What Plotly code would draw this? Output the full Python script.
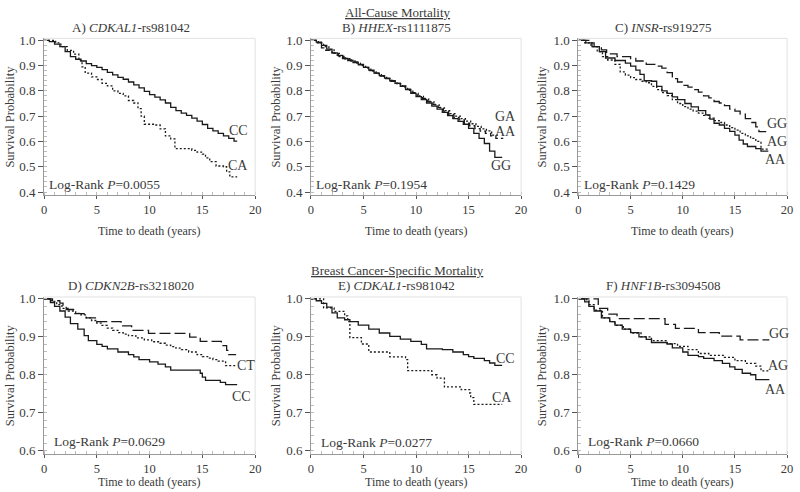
import plotly.graph_objects as go

# ---------------- data ----------------
# A) CDKAL1-rs981042, all-cause
A_CC_t = [0, 0.5, 1.0, 1.5, 2.0, 2.5, 3.0, 3.5, 4.0, 4.5, 5.0, 5.5, 6.0, 6.5, 7.0, 7.5, 8.0, 8.5, 9.0, 9.5,
          10.0, 10.5, 11.0, 11.5, 12.0, 12.5, 13.0, 13.5, 14.0, 14.5, 15.0, 15.5, 16.0, 16.5, 17.0, 17.5, 18.0, 18.3]
A_CC_s = [1.0, 0.995, 0.985, 0.975, 0.955, 0.935, 0.925, 0.918, 0.908, 0.900, 0.893, 0.884, 0.873, 0.863, 0.853,
          0.846, 0.835, 0.824, 0.812, 0.798, 0.785, 0.775, 0.764, 0.752, 0.735, 0.722, 0.712, 0.703, 0.692, 0.680,
          0.667, 0.652, 0.642, 0.632, 0.622, 0.612, 0.601, 0.601]
A_CA_t = [0, 1.1, 1.6, 2.2, 2.8, 3.3, 3.6, 3.9, 4.5, 5.0, 5.5, 6.0, 6.5, 7.0, 7.5, 8.0, 8.5, 8.9, 9.2, 9.5,
          10.5, 11.0, 11.5, 12.0, 12.4, 14.0, 14.5, 15.0, 15.3, 15.7, 16.3, 17.0, 17.3, 17.6, 18.3]
A_CA_s = [1.0, 0.99, 0.975, 0.96, 0.945, 0.92, 0.895, 0.87, 0.855, 0.845, 0.83, 0.82, 0.80, 0.79, 0.78, 0.762,
          0.752, 0.73, 0.70, 0.668, 0.665, 0.65, 0.622, 0.61, 0.572, 0.565, 0.558, 0.55, 0.535, 0.52, 0.503,
          0.50, 0.48, 0.46, 0.46]

# B) HHEX-rs1111875, all-cause
B_GG_t = [0, 0.5, 1.0, 1.5, 2.0, 2.5, 3.0, 3.5, 4.0, 4.5, 5.0, 5.5, 6.0, 6.5, 7.0, 7.5, 8.0, 8.5, 9.0, 9.5,
          10.0, 10.5, 11.0, 11.5, 12.0, 12.5, 13.0, 13.5, 14.0, 14.5, 15.0, 15.5, 16.0, 16.5, 17.0, 17.5, 18.2]
B_GG_s = [1.0, 0.993, 0.98, 0.965, 0.95, 0.94, 0.928, 0.92, 0.912, 0.903, 0.893, 0.882, 0.870, 0.860, 0.850,
          0.840, 0.830, 0.818, 0.805, 0.790, 0.777, 0.765, 0.752, 0.740, 0.728, 0.715, 0.702, 0.690, 0.679,
          0.668, 0.652, 0.632, 0.612, 0.592, 0.562, 0.537, 0.537]
B_GA_t = [0, 0.7, 1.2, 1.7, 2.2, 2.7, 3.2, 3.7, 4.2, 4.7, 5.2, 5.7, 6.2, 6.7, 7.2, 7.7, 8.2, 8.7, 9.2, 9.7,
          10.2, 10.7, 11.2, 11.7, 12.2, 12.7, 13.2, 13.7, 14.2, 14.7, 15.2, 15.7, 16.2, 16.7, 17.2, 17.8]
B_GA_s = [1.0, 0.99, 0.975, 0.962, 0.948, 0.935, 0.927, 0.918, 0.91, 0.9, 0.89, 0.878, 0.868, 0.858, 0.848,
          0.838, 0.828, 0.815, 0.802, 0.79, 0.778, 0.768, 0.757, 0.745, 0.733, 0.722, 0.71, 0.7, 0.69, 0.68,
          0.67, 0.66, 0.65, 0.642, 0.625, 0.625]
B_AA_t = [0, 0.6, 1.0, 1.4, 2.0, 2.6, 3.1, 3.6, 4.1, 4.6, 5.1, 5.6, 6.1, 6.6, 7.1, 7.6, 8.1, 8.6, 9.1, 9.6,
          10.1, 10.6, 11.1, 11.6, 12.1, 12.6, 13.1, 13.6, 14.1, 14.6, 15.1, 15.6, 16.1, 16.6, 17.1, 17.6, 18.3]
B_AA_s = [1.0, 0.99, 0.97, 0.96, 0.95, 0.938, 0.93, 0.922, 0.915, 0.905, 0.893, 0.88, 0.87, 0.858, 0.848, 0.838,
          0.83, 0.82, 0.807, 0.793, 0.78, 0.77, 0.758, 0.746, 0.735, 0.72, 0.706, 0.695, 0.685, 0.672, 0.662,
          0.651, 0.641, 0.632, 0.622, 0.612, 0.612]

# C) INSR-rs919275, all-cause
C_GG_t = [0, 1.0, 1.5, 2.2, 2.7, 3.7, 5.0, 5.5, 6.5, 7.5, 8.0, 8.5, 9.0, 9.5, 10.0, 10.5, 11.0, 11.5, 12.0,
          12.5, 13.0, 13.5, 14.0, 14.5, 15.0, 15.5, 16.0, 16.5, 17.0, 17.3, 18.0]
C_GG_s = [1.0, 0.99, 0.975, 0.962, 0.946, 0.935, 0.928, 0.918, 0.905, 0.898, 0.89, 0.872, 0.848, 0.835, 0.822,
          0.815, 0.805, 0.795, 0.78, 0.772, 0.758, 0.752, 0.742, 0.728, 0.72, 0.708, 0.69, 0.675, 0.658, 0.639, 0.639]
C_AG_t = [0, 0.6, 1.2, 1.8, 2.3, 2.8, 3.5, 4.0, 4.5, 5.0, 5.5, 6.0, 6.5, 7.0, 7.5, 8.0, 8.5, 9.0, 9.5, 10.0,
          10.5, 11.0, 11.5, 12.0, 12.5, 13.0, 13.5, 14.0, 14.5, 15.0, 15.5, 16.0, 16.5, 17.0, 17.5, 18.3]
C_AG_s = [1.0, 0.99, 0.975, 0.955, 0.935, 0.922, 0.905, 0.875, 0.862, 0.852, 0.845, 0.838, 0.832, 0.818, 0.805,
          0.793, 0.781, 0.765, 0.75, 0.738, 0.728, 0.72, 0.712, 0.703, 0.692, 0.682, 0.675, 0.665, 0.655, 0.645,
          0.632, 0.622, 0.612, 0.6, 0.57, 0.57]
C_AA_t = [0, 0.7, 1.3, 2.0, 2.6, 3.5, 4.5, 5.0, 5.5, 5.9, 6.3, 7.0, 7.5, 8.0, 8.5, 9.0, 9.5, 10.2, 10.8, 11.5,
          12.2, 12.6, 13.0, 13.5, 14.0, 14.5, 15.0, 15.4, 15.8, 16.2, 17.0, 17.5, 18.2]
C_AA_s = [1.0, 0.99, 0.975, 0.955, 0.93, 0.92, 0.91, 0.898, 0.882, 0.865, 0.84, 0.838, 0.818, 0.8, 0.79, 0.776,
          0.765, 0.75, 0.737, 0.722, 0.705, 0.688, 0.672, 0.665, 0.652, 0.64, 0.625, 0.605, 0.59, 0.58, 0.572,
          0.562, 0.562]

# D) CDKN2B-rs3218020, breast cancer-specific
D_TT_t = [0, 0.8, 1.5, 1.8, 2.1, 2.8, 3.8, 4.0, 5.0, 7.3, 8.3, 9.9, 13.8, 14.8, 16.8, 17.3, 17.5, 18.2]
D_TT_s = [1.0, 0.995, 0.989, 0.98, 0.972, 0.961, 0.955, 0.95, 0.94, 0.929, 0.917, 0.909, 0.899, 0.888, 0.877,
          0.864, 0.853, 0.853]
D_CT_t = [0, 0.7, 1.2, 1.7, 2.3, 3.0, 3.5, 4.0, 4.5, 5.0, 5.5, 6.0, 6.5, 7.0, 7.5, 8.0, 8.7, 9.5, 10.2, 11.0,
          11.5, 12.0, 12.5, 13.0, 13.7, 14.5, 15.0, 15.5, 16.0, 16.5, 17.2, 18.3]
D_CT_s = [1.0, 0.993, 0.985, 0.975, 0.968, 0.962, 0.958, 0.95, 0.943, 0.936, 0.93, 0.923, 0.917, 0.911, 0.907,
          0.903, 0.897, 0.892, 0.887, 0.883, 0.878, 0.874, 0.87, 0.866, 0.86, 0.853, 0.848, 0.844, 0.84, 0.836,
          0.824, 0.824]
D_CC_t = [0, 0.6, 1.0, 1.5, 2.0, 2.5, 3.2, 3.8, 4.2, 5.0, 5.5, 6.0, 7.0, 8.0, 8.5, 9.0, 10.0, 10.8, 11.5, 12.0,
          14.8, 15.0, 15.3, 16.7, 17.2, 18.3]
D_CC_s = [1.0, 0.99, 0.98, 0.968, 0.952, 0.935, 0.92, 0.903, 0.89, 0.88, 0.875, 0.868, 0.86, 0.853, 0.847, 0.84,
          0.834, 0.828, 0.821, 0.812, 0.804, 0.794, 0.785, 0.78, 0.774, 0.774]

# E) CDKAL1-rs981042, breast cancer-specific
E_CC_t = [0, 0.5, 1.0, 1.5, 2.0, 2.5, 3.2, 3.7, 4.5, 5.5, 6.5, 7.5, 8.5, 9.5, 10.5, 11.0, 12.5, 13.5, 14.5,
          15.0, 15.5, 16.5, 17.0, 17.5, 18.2]
E_CC_s = [1.0, 0.995, 0.988, 0.978, 0.963, 0.95, 0.945, 0.94, 0.931, 0.92, 0.91, 0.901, 0.894, 0.888, 0.88,
          0.868, 0.866, 0.86, 0.853, 0.848, 0.843, 0.837, 0.831, 0.825, 0.825]
E_CA_t = [0, 1.2, 2.2, 3.2, 3.5, 3.7, 4.8, 5.5, 7.5, 9.0, 9.2, 11.5, 12.0, 12.7, 14.3, 15.1, 15.2, 15.5, 18.2]
E_CA_s = [1.0, 0.976, 0.967, 0.955, 0.94, 0.898, 0.881, 0.86, 0.847, 0.84, 0.811, 0.80, 0.791, 0.768, 0.761,
          0.752, 0.74, 0.722, 0.722]

# F) HNF1B-rs3094508, breast cancer-specific
F_GG_t = [0, 1.9, 2.8, 3.7, 8.3, 9.3, 11.5, 13.5, 15.5, 18.3]
F_GG_s = [1.0, 0.975, 0.96, 0.948, 0.933, 0.922, 0.911, 0.902, 0.892, 0.892]
F_AG_t = [0, 0.8, 1.0, 1.5, 2.3, 3.0, 3.5, 4.3, 5.0, 6.0, 7.0, 8.5, 9.5, 10.5, 11.5, 12.5, 14.0, 15.0, 16.0,
          17.0, 17.5, 18.3]
F_AG_s = [1.0, 0.995, 0.985, 0.97, 0.95, 0.94, 0.93, 0.92, 0.91, 0.9, 0.89, 0.882, 0.875, 0.866, 0.856, 0.851,
          0.846, 0.837, 0.83, 0.823, 0.81, 0.81]
F_AA_t = [0, 0.6, 1.0, 1.5, 2.2, 3.0, 3.5, 4.2, 5.0, 5.8, 6.5, 7.0, 8.5, 9.0, 10.0, 10.5, 11.5, 12.0, 13.0,
          13.8, 14.5, 15.0, 15.7, 16.5, 17.0, 18.3]
F_AA_s = [1.0, 0.992, 0.98, 0.968, 0.95, 0.94, 0.931, 0.92, 0.911, 0.9, 0.893, 0.885, 0.881, 0.871, 0.86,
          0.851, 0.848, 0.843, 0.837, 0.83, 0.821, 0.814, 0.804, 0.8, 0.787, 0.787]

X_TICKS = [0, 5, 10, 15, 20]
TOP_YTICKS = [0.4, 0.5, 0.6, 0.7, 0.8, 0.9, 1.0]
BOT_YTICKS = [0.6, 0.7, 0.8, 0.9, 1.0]

# ---------------- styling / layout ----------------
FONT = "Liberation Serif"
INK = "#1a1a1a"
TXT = "#3a3a3a"
SOLID = "solid"
DOT = "2px,2px"
LONG = "11px,4px"
SHORT = "5px,3px"

W, H = 800, 492
XDOM_PX = [(41.5, 255), (311.5, 524), (582, 793)]
TOP_Y_PX, TOP_RANGE = (33, 193), [0.388, 1.0077]
BOT_Y_PX, BOT_RANGE = (297, 457), [0.592, 1.005]

panels = [
    dict(title="A) <i>CDKAL1</i>-rs981042", p="0.0055", row=0, col=0,
         curves=[(A_CC_t, A_CC_s, SOLID), (A_CA_t, A_CA_s, DOT)],
         labels=[("CC", 18.4, 0.644), ("CA", 18.4, 0.504)], ptx=0.3, pty=0.431),
    dict(title="B) <i>HHEX</i>-rs1111875", p="0.1954", row=0, col=1,
         curves=[(B_GA_t, B_GA_s, DOT), (B_AA_t, B_AA_s, SHORT), (B_GG_t, B_GG_s, SOLID)],
         labels=[("GA", 18.5, 0.698), ("AA", 18.5, 0.640), ("GG", 18.1, 0.504)], ptx=0.3, pty=0.431),
    dict(title="C) <i>INSR</i>-rs919275", p="0.1429", row=0, col=2,
         curves=[(C_GG_t, C_GG_s, LONG), (C_AG_t, C_AG_s, DOT), (C_AA_t, C_AA_s, SOLID)],
         labels=[("GG", 19.0, 0.671), ("AG", 19.0, 0.601), ("AA", 18.9, 0.528)], ptx=0.3, pty=0.431),
    dict(title="D) <i>CDKN2B</i>-rs3218020", p="0.0629", row=1, col=0,
         curves=[(D_TT_t, D_TT_s, LONG), (D_CT_t, D_CT_s, DOT), (D_CC_t, D_CC_s, SOLID)],
         labels=[("CT", 19.1, 0.824), ("CC", 18.7, 0.744)], ptx=0.8, pty=0.623),
    dict(title="E) <i>CDKAL1</i>-rs981042", p="0.0277", row=1, col=1,
         curves=[(E_CC_t, E_CC_s, SOLID), (E_CA_t, E_CA_s, DOT)],
         labels=[("CC", 18.5, 0.842), ("CA", 18.2, 0.739)], ptx=0.8, pty=0.621),
    dict(title="F) <i>HNF1B</i>-rs3094508", p="0.0660", row=1, col=2,
         curves=[(F_GG_t, F_GG_s, LONG), (F_AG_t, F_AG_s, DOT), (F_AA_t, F_AA_s, SOLID)],
         labels=[("GG", 19.2, 0.910), ("AG", 19.1, 0.824), ("AA", 18.9, 0.760)], ptx=0.7, pty=0.623),
]

TITLE_X_PX = [129, 398, 668]
TITLE_Y_PX = [21.5, 285]
XTITLE_Y_PX = [230, 485.5]
YTITLE_X_PX = [7, 276, 545]


def px_x(p):
    return p / W


def px_y(p):
    return (H - p) / H


fig = go.Figure()
layout = dict(width=W, height=H, margin=dict(l=0, r=0, t=0, b=0),
              paper_bgcolor="white", plot_bgcolor="white", showlegend=False,
              font=dict(family=FONT, size=13, color=TXT))
annotations = []
shapes = []

for i, pn in enumerate(panels):
    k = i + 1
    xa = "x" if k == 1 else f"x{k}"
    ya = "y" if k == 1 else f"y{k}"
    xkey = "xaxis" if k == 1 else f"xaxis{k}"
    ykey = "yaxis" if k == 1 else f"yaxis{k}"
    x0, x1 = XDOM_PX[pn["col"]]
    ypx, yrange, yticks = (TOP_Y_PX, TOP_RANGE, TOP_YTICKS) if pn["row"] == 0 else (BOT_Y_PX, BOT_RANGE, BOT_YTICKS)

    for t, s, dash in pn["curves"]:
        fig.add_trace(go.Scatter(x=t, y=s, mode="lines", line_shape="hv",
                                 line=dict(color=INK, width=1.3, dash=dash),
                                 xaxis=xa, yaxis=ya, hoverinfo="skip"))

    layout[xkey] = dict(domain=[px_x(x0), px_x(x1)], range=[0, 20], anchor=ya,
                        tickvals=X_TICKS, ticks="outside", ticklen=3, tickcolor="#555",
                        showline=True, linecolor="#999", linewidth=1, showgrid=False, zeroline=False,
                        tickfont=dict(family=FONT, size=12.5, color=TXT),
                        minor=dict(dtick=1, ticks="inside", ticklen=3, tickcolor="#bbb"))
    layout[ykey] = dict(domain=[px_y(ypx[1]), px_y(ypx[0])], range=yrange, anchor=xa,
                        tickvals=yticks, tickformat=".1f", ticks="outside", ticklen=5, tickcolor="#555",
                        showline=True, linecolor="#999", linewidth=1, showgrid=False, zeroline=False,
                        tickfont=dict(family=FONT, size=13, color=TXT),
                        minor=dict(dtick=0.02, ticks="inside", ticklen=3, tickcolor="#bbb"))

    # faint frame (top and right)
    shapes.append(dict(type="line", xref=f"{xa} domain", yref=f"{ya} domain", x0=0, x1=1, y0=1, y1=1,
                       line=dict(color="#e2e2e2", width=1)))
    shapes.append(dict(type="line", xref=f"{xa} domain", yref=f"{ya} domain", x0=1, x1=1, y0=0, y1=1,
                       line=dict(color="#e2e2e2", width=1)))

    for lab, lx, ly in pn["labels"]:
        annotations.append(dict(text=lab, x=lx, y=ly, xref=xa, yref=ya, showarrow=False,
                                xanchor="center", yanchor="middle",
                                font=dict(family=FONT, size=14, color=TXT)))
    annotations.append(dict(text=f"Log-Rank <i>P</i>={pn['p']}", x=pn["ptx"], y=pn["pty"], xref=xa, yref=ya,
                            showarrow=False, xanchor="left", yanchor="middle",
                            font=dict(family=FONT, size=13.5, color=TXT)))
    # panel title
    annotations.append(dict(text=pn["title"], x=px_x(TITLE_X_PX[pn["col"]]), y=px_y(TITLE_Y_PX[pn["row"]]),
                            xref="paper", yref="paper", showarrow=False, xanchor="center", yanchor="middle",
                            font=dict(family=FONT, size=13, color=TXT)))
    # x-axis title
    annotations.append(dict(text="Time to death (years)", x=px_x((x0 + x1) / 2), y=px_y(XTITLE_Y_PX[pn["row"]]),
                            xref="paper", yref="paper", showarrow=False, xanchor="center", yanchor="middle",
                            font=dict(family=FONT, size=12, color=TXT)))
    # y-axis title
    annotations.append(dict(text="Survival Probability", x=px_x(YTITLE_X_PX[pn["col"]]),
                            y=px_y((ypx[0] + ypx[1]) / 2), xref="paper", yref="paper", showarrow=False,
                            textangle=-90, xanchor="center", yanchor="middle",
                            font=dict(family=FONT, size=12.5, color=TXT)))

annotations.append(dict(text="<u>All-Cause Mortality</u>", x=px_x(399), y=px_y(7), xref="paper", yref="paper",
                        showarrow=False, xanchor="center", yanchor="middle",
                        font=dict(family=FONT, size=13, color=TXT)))
annotations.append(dict(text="<u>Breast Cancer-Specific Mortality</u>", x=px_x(399), y=px_y(270), xref="paper",
                        yref="paper", showarrow=False, xanchor="center", yanchor="middle",
                        font=dict(family=FONT, size=13, color=TXT)))

layout["annotations"] = annotations
layout["shapes"] = shapes
fig.update_layout(**layout)
fig.write_html("out.html", config={"displayModeBar": False},
               post_script="document.documentElement.style.margin='0';document.body.style.margin='0';"
                           "document.body.style.padding='0';document.body.style.overflow='hidden';")
